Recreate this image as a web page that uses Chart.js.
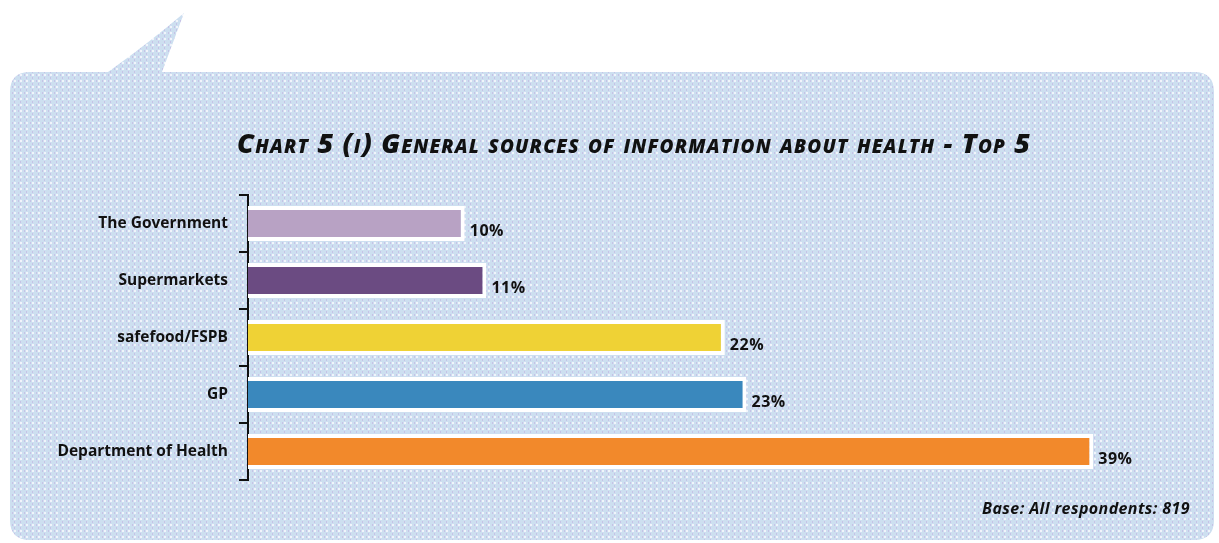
<!DOCTYPE html>
<html>
<head>
<meta charset="utf-8">
<script src="https://cdn.jsdelivr.net/npm/chart.js@4.4.1/dist/chart.umd.min.js"></script>
<style>
  html, body { margin: 0; padding: 0; background: #ffffff; }
  #wrap { width: 1219px; height: 543px; position: relative; }
</style>
</head>
<body>
<div id="wrap"><canvas id="chart" width="1219" height="543"></canvas></div>
<script>
// Survey results: general sources of information about health (top 5)
const categories = ['The Government', 'Supermarkets', 'safefood/FSPB', 'GP', 'Department of Health'];
const shares = [10, 11, 22, 23, 39];
const barColours = ['#b8a2c4', '#6b4b82', '#efd235', '#3a88bd', '#f2892b'];
const valueLabels = ['10%', '11%', '22%', '23%', '39%'];
const titleText = 'Chart 5 (i) General sources of information about health - Top 5';
const baseNote = 'Base: All respondents: 819';

// Light blue dotted texture used for the speech-bubble panel
function makeTexture() {
  const t = document.createElement('canvas');
  t.width = 6; t.height = 6;
  const c = t.getContext('2d');
  c.fillStyle = '#cddff0';
  c.fillRect(0, 0, 6, 6);
  c.fillStyle = '#c6c2e6';
  c.fillRect(2, 0, 1, 1);
  c.fillRect(2, 5, 1, 1);
  c.fillRect(0, 2, 1, 2);
  c.fillStyle = '#f1f4fb';
  c.fillRect(2, 2, 2, 2);
  return t;
}

// Speech bubble behind the chart
const bubblePanel = {
  id: 'bubblePanel',
  beforeDraw(chart) {
    const ctx = chart.ctx;
    const L = 10, T = 72, R = 1214, B = 540, r = 20;
    ctx.save();
    ctx.beginPath();
    ctx.moveTo(L + r, T);
    ctx.lineTo(108, T);
    ctx.quadraticCurveTo(150, 42, 184, 13);
    ctx.lineTo(162, T);
    ctx.lineTo(R - r, T);
    ctx.quadraticCurveTo(R, T, R, T + r);
    ctx.lineTo(R, B - r);
    ctx.quadraticCurveTo(R, B, R - r, B);
    ctx.lineTo(L + r, B);
    ctx.quadraticCurveTo(L, B, L, B - r);
    ctx.lineTo(L, T + r);
    ctx.quadraticCurveTo(L, T, L + r, T);
    ctx.closePath();
    ctx.fillStyle = ctx.createPattern(makeTexture(), 'repeat');
    ctx.fill();
    ctx.restore();
  }
};

// Title, base note and value labels
const annotations = {
  id: 'annotations',
  afterDatasetsDraw(chart) {
    const ctx = chart.ctx;
    ctx.save();
    ctx.fillStyle = '#111111';
    ctx.textBaseline = 'middle';

    ctx.font = 'italic small-caps 800 27px "Open Sans", sans-serif';
    ctx.letterSpacing = '1.2px';
    ctx.textAlign = 'left';
    ctx.fillText(titleText, 237, 145);

    ctx.font = 'italic bold 16px "Open Sans", sans-serif';
    ctx.letterSpacing = '0.4px';
    ctx.textAlign = 'right';
    ctx.fillText(baseNote, 1190, 509);

    ctx.font = 'bold 16px "Open Sans", sans-serif';
    ctx.letterSpacing = '0.5px';
    ctx.textAlign = 'left';
    const meta = chart.getDatasetMeta(0);
    meta.data.forEach((bar, i) => {
      ctx.fillText(valueLabels[i], bar.x + 5, bar.y + 8);
    });
    ctx.letterSpacing = '0px';
    ctx.restore();
  }
};

new Chart(document.getElementById('chart'), {
  type: 'bar',
  data: {
    labels: categories,
    datasets: [{
      data: shares,
      backgroundColor: barColours,
      borderColor: '#ffffff',
      borderWidth: 4,
      borderSkipped: 'start',
      barPercentage: 1,
      categoryPercentage: 0.61
    }]
  },
  options: {
    indexAxis: 'y',
    responsive: false,
    animation: false,
    layout: { padding: { top: 195, bottom: 63, left: 0, right: 39 } },
    plugins: {
      legend: { display: false },
      tooltip: { enabled: false },
      title: { display: false }
    },
    scales: {
      x: {
        display: false,
        min: 0,
        max: 43
      },
      y: {
        afterFit(scale) { scale.width = 248; },
        grid: {
          display: true,
          offset: true,
          drawOnChartArea: false,
          drawTicks: true,
          tickLength: 9,
          color: '#111111',
          lineWidth: 2
        },
        border: { display: true, color: '#111111', width: 2 },
        ticks: {
          color: '#111111',
          padding: 11,
          font: { family: '"Open Sans", sans-serif', size: 15.5, weight: 'bold' }
        }
      }
    }
  },
  plugins: [bubblePanel, annotations]
});
</script>
</body>
</html>
